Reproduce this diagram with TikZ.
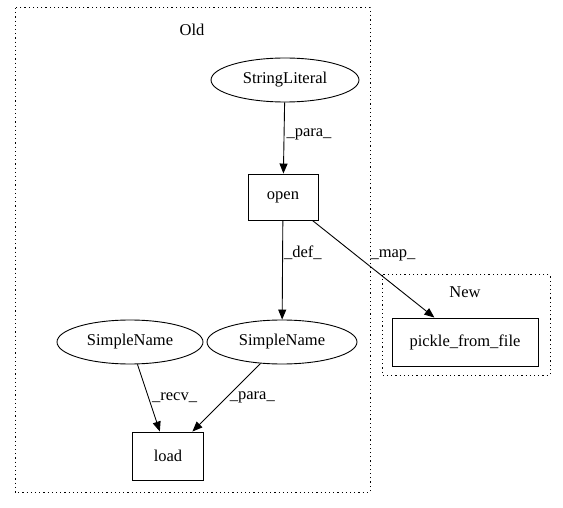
\documentclass[tikz,border=0pt]{standalone}
\usepackage{fontspec}
\setmainfont{Liberation Serif}
\usetikzlibrary{arrows.meta,shapes.geometric}
\tikzset{
  ellnode/.style={draw, ellipse, minimum width=148pt, minimum height=44pt, inner sep=0pt, line width=0.9pt},
  boxnode/.style={draw, rectangle, minimum height=46pt, inner sep=6pt, line width=0.9pt},
  cluster/.style={draw, line width=1pt, dash pattern=on 1.2pt off 3pt},
  edge/.style={-{Triangle[length=10pt,width=8pt]}, line width=0.9pt},
  elabel/.style={inner sep=1pt}
}
\begin{document}
\begin{tikzpicture}[x=1pt, y=-1pt, font=\fontsize{16.5}{19}\selectfont]
\useasboundingbox (0,0) rectangle (563,508);

% Clusters
\draw [cluster] (15,8) rectangle (370,492);
\node at (192,30) {Old};
\draw [cluster] (382,275) rectangle (550,375);
\node at (465,292) {New};

% Nodes
\node [ellnode] (strlit) at (285,80) {StringLiteral};
\node [boxnode, minimum width=70pt] (open) at (283,197) {open};
\node [ellnode, minimum width=150pt] (nameR) at (282,342) {SimpleName};
\node [ellnode, minimum width=146pt] (nameL) at (130,342) {SimpleName};
\node [boxnode, minimum width=71pt, minimum height=48pt] (load) at (168,456) {load};
\node [boxnode, minimum width=146pt, minimum height=48pt] (pfile) at (465,342) {pickle\_from\_file};

% Edges with labels
\draw [edge] (strlit) -- (open) node [elabel, pos=0.45, right=1pt] {\_para\_};
\draw [edge] (open) -- (nameR) node [elabel, pos=0.33, right=0pt] {\_def\_};
\draw [edge] (open) -- (pfile);
\node [elabel] at (393,255) {\_map\_};
\draw [edge] (nameL) -- (load) node [elabel, pos=0.5, right=2pt] {\_recv\_};
\draw [edge] (nameR) -- (load) node [elabel, pos=0.5, right=2pt] {\_para\_};

\end{tikzpicture}
\end{document}
